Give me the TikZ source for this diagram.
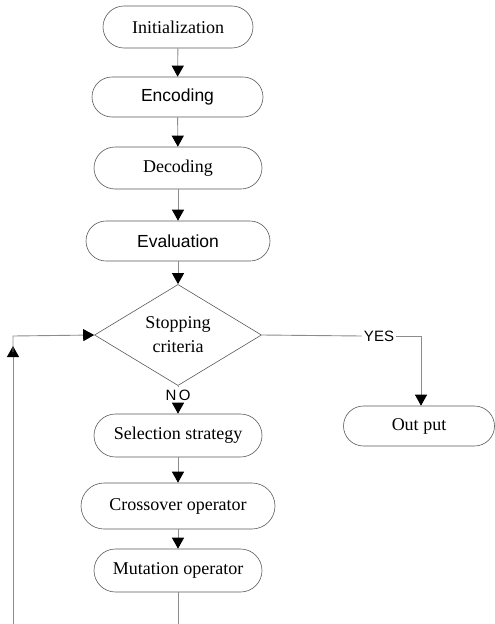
\documentclass[tikz,border=0pt]{standalone}
\usepackage{fontspec}
\setmainfont{Liberation Serif}
\newfontfamily\arialf{Liberation Sans}
\usetikzlibrary{arrows.meta,shapes.geometric}
\tikzset{
  stadium/.style={draw=black!65, line width=0.6pt, rectangle, rounded corners=#1, inner sep=0pt, font=\fontsize{18}{20}\selectfont},
  decision/.style={draw=black!65, line width=0.6pt, diamond, inner sep=0pt, minimum width=167pt, minimum height=84pt, align=center, font=\fontsize{18}{24}\selectfont},
  conn/.style={draw=black!45, line width=0.9pt},
  arr/.style={conn, -{Triangle[length=11pt,width=12pt,black]}},
  lbl/.style={font=\arialf\fontsize{15}{17}\selectfont, inner sep=2pt}
}
\begin{document}
\begin{tikzpicture}[x=1pt,y=-1pt]
\useasboundingbox (0,0) rectangle (495,624);
\node[stadium=21pt, minimum width=150pt, minimum height=42pt] (init) at (178,27) {Initialization};
\node[stadium=20pt, minimum width=171pt, minimum height=40pt, font=\arialf\fontsize{17.5}{20}\selectfont] (enc) at (177.5,97) {Encoding};
\node[stadium=21pt, minimum width=168pt, minimum height=42pt] (dec) at (178,168) {Decoding};
\node[stadium=20pt, minimum width=184pt, minimum height=40pt, font=\arialf\fontsize{17.5}{20}\selectfont] (eval) at (178,241) {Evaluation};
\node[decision] (stop) at (178,335) {Stopping\\criteria};
\node[lbl] (no) at (178,395) {N\,O};
\node[lbl] (yes) at (379,336) {YES};
\coordinate (yc) at (421,336);
\node[stadium=20pt, minimum width=151pt, minimum height=40pt] (out) at (419,426) {Out put};
\node[stadium=21.5pt, minimum width=168pt, minimum height=43pt] (sel) at (178,435.5) {Selection strategy};
\node[stadium=23pt, minimum width=194pt, minimum height=46pt] (cross) at (178,506) {Crossover operator};
\node[stadium=21.5pt, minimum width=168pt, minimum height=43pt] (mut) at (178,570.5) {Mutation operator};
\coordinate (mb) at (178,624);
\coordinate (lb) at (13,624);
\coordinate (lt) at (13,336);

\draw[arr] (init) -- (enc);
\draw[arr] (enc) -- (dec);
\draw[arr] (dec) -- (eval);
\draw[arr] (eval) -- (stop);
\draw[conn] (stop.south) -- (no.north);
\draw[arr] (no.south) -- (sel);
\draw[arr] (sel) -- (cross);
\draw[arr] (cross) -- (mut);
\draw[conn] (stop.east) -- (yes.west);
\draw[arr] (yes.east) -- (yc) -- (out.north -| yc);
\draw[conn] (mut) -- (mb);
\draw[arr] (lb) -- (13,346);
\draw[arr] (13,352) -- (lt) -- (stop.west);
\end{tikzpicture}
\end{document}
